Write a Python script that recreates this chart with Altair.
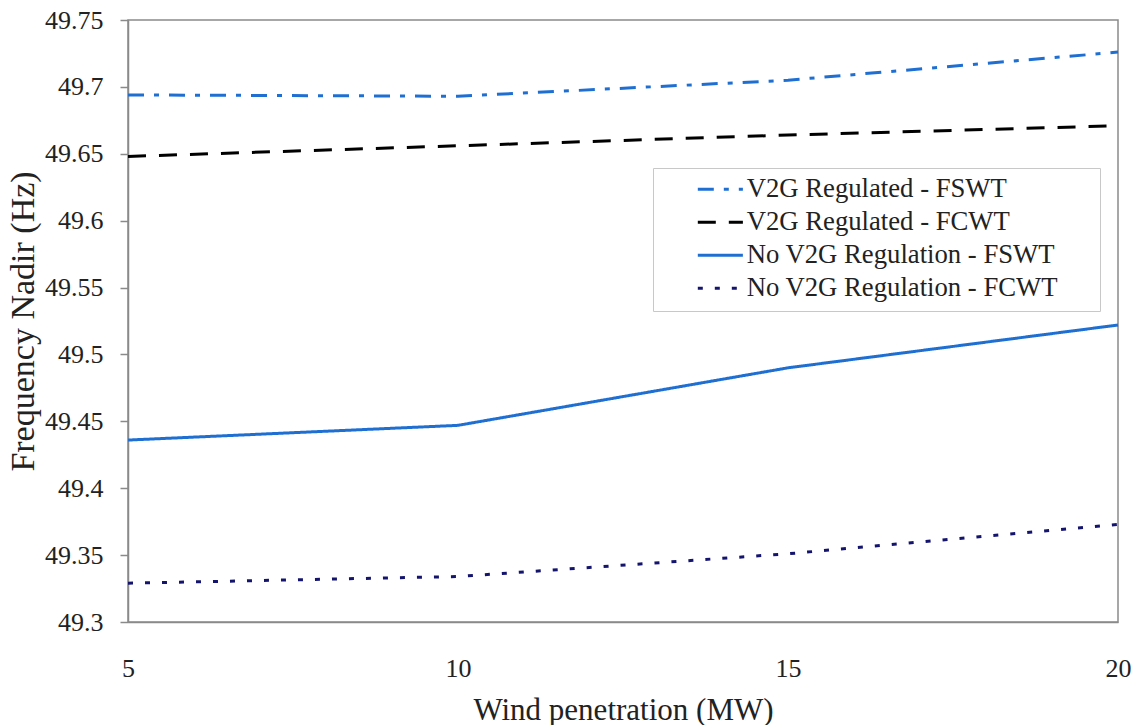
import altair as alt
import pandas as pd

# Wind penetration levels (MW)
wind_mw = [5, 10, 15, 20]

# Frequency nadir (Hz) for each scenario
series_names = [
    "V2G Regulated - FSWT",
    "V2G Regulated - FCWT",
    "No V2G Regulation - FSWT",
    "No V2G Regulation - FCWT",
]
v2g_fswt = [49.694, 49.693, 49.705, 49.726]
v2g_fcwt = [49.648, 49.656, 49.664, 49.671]
nov2g_fswt = [49.436, 49.447, 49.490, 49.522]
nov2g_fcwt = [49.329, 49.334, 49.351, 49.373]

y_ticks = [49.3, 49.35, 49.4, 49.45, 49.5, 49.55, 49.6, 49.65, 49.7, 49.75]

series_values = [v2g_fswt, v2g_fcwt, nov2g_fswt, nov2g_fcwt]
colors = ["#1f6fd2", "#000000", "#1f6fd2", "#14146e"]
dashes = [[16, 10, 5, 10], [18, 13], [1, 0], [5, 12]]

rows = []
for name, vals in zip(series_names, series_values):
    for w, v in zip(wind_mw, vals):
        rows.append({"wind": w, "nadir": v, "series": name})
df = pd.DataFrame(rows)

FONT = "Liberation Serif"
INK = "#222222"

# Long horizontal swatch drawn from a short symbol size, so rows stay compact
legend = alt.Legend(
    title=None,
    orient="none",
    legendX=525,
    legendY=148,
    fillColor="white",
    strokeColor="#c8c8c8",
    padding=8,
    symbolType="M-4,0H4",
    symbolSize=127,
    symbolStrokeWidth=3,
    symbolOffset=46,
    labelFont=FONT,
    labelFontSize=26.7,
    labelColor=INK,
    labelOffset=13,
    labelLimit=700,
    rowPadding=5,
    labelExpr="datum.label + '\u00a0\u00a0\u00a0\u00a0\u00a0\u200b'",
)

chart = (
    alt.Chart(df)
    .mark_line(strokeWidth=3)
    .encode(
        x=alt.X(
            "wind:Q",
            scale=alt.Scale(domain=[5, 20], nice=False, zero=False),
            axis=alt.Axis(
                title="Wind penetration (MW)",
                values=wind_mw,
                format="d",
                ticks=False,
                labelFlush=False,
                labelPadding=33,
                labelFont=FONT,
                labelFontSize=26,
                titleFont=FONT,
                titleFontSize=31,
                titlePadding=14,
            ),
        ),
        y=alt.Y(
            "nadir:Q",
            scale=alt.Scale(domain=[49.3, 49.75], nice=False, zero=False),
            axis=alt.Axis(
                title="Frequency Nadir (Hz)",
                values=y_ticks,
                format="~g",
                tickSize=8,
                labelFlush=False,
                labelPadding=17,
                labelFont=FONT,
                labelFontSize=26,
                titleFont=FONT,
                titleFontSize=34,
                titlePadding=4,
            ),
        ),
        color=alt.Color(
            "series:N",
            scale=alt.Scale(domain=series_names, range=colors),
            sort=series_names,
            legend=legend,
        ),
        strokeDash=alt.StrokeDash(
            "series:N",
            scale=alt.Scale(domain=series_names, range=dashes),
            sort=series_names,
            legend=legend,
        ),
    )
    .properties(
        width=990,
        height=602,
        autosize=alt.AutoSizeParams(type="none"),
        padding={"left": 128, "top": 20, "right": 20, "bottom": 103},
    )
    .configure_view(stroke="#8a8a8a", strokeWidth=1.5)
    .configure_axis(
        grid=False,
        domainColor="#8a8a8a",
        domainWidth=1.5,
        tickColor="#8a8a8a",
        tickWidth=1.5,
        labelColor=INK,
        titleFontWeight="normal",
        titleColor=INK,
    )
)

chart.save("out.html", embed_options={"renderer": "svg", "actions": False})
